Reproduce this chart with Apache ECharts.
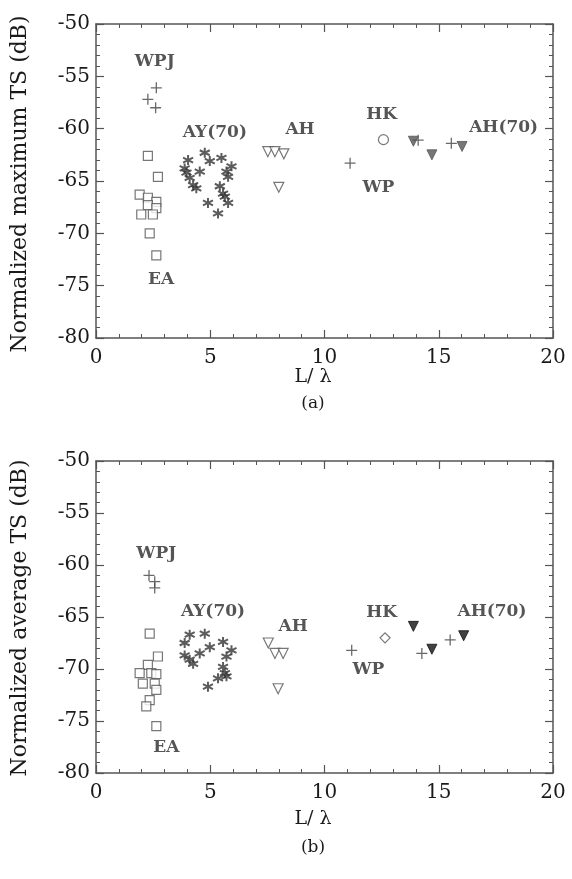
<!DOCTYPE html>
<html><head><meta charset="utf-8">
<script src="https://cdn.jsdelivr.net/npm/echarts@6/dist/echarts.min.js"></script>
<style>html,body{margin:0;padding:0;background:#fff}#c{width:572px;height:879px}</style>
</head><body><div id="c"></div>
<script>
// ---- Data (a): normalized maximum TS ----
const xTicks = [0, 5, 10, 15, 20];
const yTicks = [-80, -75, -70, -65, -60, -55, -50];

const maxWPJ = [[2.64,-56.1],[2.27,-57.2],[2.61,-58.0]];
const maxEA = [[2.27,-62.6],[2.71,-64.6],[1.91,-66.3],[2.27,-66.6],[2.64,-67.0],[2.27,-67.3],[2.64,-67.6],[1.98,-68.2],[2.49,-68.2],[2.35,-70.0],[2.64,-72.1]];
const maxAY70 = [[4.76,-62.3],[4.03,-63.0],[5.49,-62.8],[4.98,-63.1],[5.93,-63.6],[3.88,-63.8],[4.54,-64.1],[3.96,-64.2],[5.71,-64.1],[4.10,-64.7],[5.78,-64.6],[4.25,-65.4],[4.39,-65.7],[5.42,-65.5],[5.56,-66.2],[5.64,-66.5],[4.90,-67.1],[5.78,-67.1],[5.34,-68.1]];
const maxAH = [[7.52,-62.2],[7.83,-62.2],[8.22,-62.4],[8.00,-65.6]];
const maxWP = [[11.12,-63.3],[14.1,-61.1],[15.55,-61.4]];
const maxHK = [[12.58,-61.05]];
const maxAH70 = [[13.89,-61.2],[14.70,-62.5],[16.02,-61.7]];
const maxLabels = [["WPJ",2.57,-53.6],["AY(70)",5.2,-60.35],["AH",8.93,-60.1],["HK",12.5,-58.7],["WP",12.36,-65.65],["AH(70)",17.84,-59.9],["EA",2.85,-74.4]];

// ---- Data (b): normalized average TS ----
const avgWPJ = [[2.32,-61.0],[2.57,-61.6],[2.57,-62.2]];
const avgEA = [[2.35,-66.6],[2.71,-68.8],[2.27,-69.6],[1.91,-70.4],[2.42,-70.4],[2.64,-70.5],[2.05,-71.4],[2.57,-71.4],[2.64,-72.0],[2.35,-73.0],[2.20,-73.6],[2.64,-75.5]];
const avgAY70 = [[4.10,-66.7],[4.76,-66.6],[5.56,-67.4],[3.88,-67.5],[4.98,-67.9],[5.93,-68.2],[4.54,-68.5],[3.88,-68.7],[5.71,-68.8],[4.10,-69.1],[4.25,-69.5],[5.56,-69.8],[5.64,-70.4],[5.34,-70.9],[5.71,-70.7],[4.90,-71.7]];
const avgAH = [[7.54,-67.5],[7.83,-68.5],[8.19,-68.5],[7.97,-71.9]];
const avgWP = [[11.19,-68.2],[14.26,-68.5],[15.5,-67.2]];
const avgHK = [[12.65,-67.0]];
const avgAH70 = [[13.89,-65.9],[14.70,-68.1],[16.09,-66.8]];
const avgLabels = [["WPJ",2.64,-58.9],["AY(70)",5.12,-64.5],["AH",8.63,-65.9],["HK",12.5,-64.6],["WP",11.92,-70.1],["AH(70)",17.33,-64.5],["EA",3.08,-77.6]];

// ---- Styling ----
const AX = '#555555', TXT = '#1a1a1a';
const FONT = 'DejaVu Serif';
const PLUS = 'path://M5 0V10M0 5H10';
const STAR = 'path://M5 0L5 10M0.67 2.5L9.33 7.5M0.67 7.5L9.33 2.5';

function ax(kind, pos, g) {
  const main = pos === 'bottom' || pos === 'left';
  return {
    type: 'value', gridIndex: g, position: pos,
    min: kind === 'x' ? xTicks[0] : yTicks[0],
    max: kind === 'x' ? xTicks[xTicks.length - 1] : yTicks[yTicks.length - 1],
    interval: 5, z: 10,
    axisLine: {show: true, onZero: false, lineStyle: {color: AX, width: 1.5}},
    axisTick: {show: true, inside: true, length: 8, lineStyle: {color: AX, width: 1.2}},
    minorTick: {show: true, splitNumber: 5, length: 4, lineStyle: {color: AX, width: 1}},
    splitLine: {show: false},
    axisLabel: {show: main, margin: kind === 'x' ? 10 : 6, color: TXT, fontSize: 20,
      fontFamily: FONT}
  };
}

function sc(xi, yi, data, symbol, size, item, rotate) {
  return {type: 'scatter', xAxisIndex: xi, yAxisIndex: yi, data: data, symbol: symbol,
    symbolSize: size, symbolRotate: rotate || 0, itemStyle: item};
}
function labels(xi, yi, arr) {
  return {type: 'scatter', xAxisIndex: xi, yAxisIndex: yi, symbolSize: 1,
    itemStyle: {color: 'rgba(0,0,0,0)'},
    data: arr.map(a => ({name: a[0], value: [a[1], a[2]]})),
    label: {show: true, position: 'inside', formatter: p => p.name,
      fontFamily: FONT, fontWeight: 'bold', fontSize: 17, color: '#2a2a2a'}};
}
const lineOnly = c => ({color: 'rgba(0,0,0,0)', borderColor: c, borderWidth: 1.3});
const openSym = c => ({color: '#fff', borderColor: c, borderWidth: 1.2});

function panel(xi, yi, d, hkSymbol, ah70Color) {
  return [
    sc(xi, yi, d.wpj, PLUS, 11, lineOnly('#444')),
    sc(xi, yi, d.ea, 'rect', 9, openSym('#555')),
    sc(xi, yi, d.ay, STAR, 10, {color: 'rgba(0,0,0,0)', borderColor: '#333', borderWidth: 2}),
    sc(xi, yi, d.ah, 'triangle', 10, openSym('#555'), 180),
    sc(xi, yi, d.wp, PLUS, 11, lineOnly('#444')),
    sc(xi, yi, d.hk, hkSymbol, 10, openSym('#555')),
    sc(xi, yi, d.ah70, 'triangle', 10, {color: ah70Color, borderColor: ah70Color, borderWidth: 1}, 180),
    labels(xi, yi, d.labels)
  ];
}

const chart = echarts.init(document.getElementById('c'));
chart.setOption({
  animation: false,
  grid: [
    {left: 96, top: 24, width: 457, height: 314},
    {left: 96, top: 461, width: 457, height: 312}
  ],
  xAxis: [ax('x', 'bottom', 0), ax('x', 'top', 0), ax('x', 'bottom', 1), ax('x', 'top', 1)],
  yAxis: [ax('y', 'left', 0), ax('y', 'right', 0), ax('y', 'left', 1), ax('y', 'right', 1)],
  series: [].concat(
    panel(0, 0, {wpj: maxWPJ, ea: maxEA, ay: maxAY70, ah: maxAH, wp: maxWP, hk: maxHK, ah70: maxAH70, labels: maxLabels}, 'circle', '#555'),
    panel(2, 2, {wpj: avgWPJ, ea: avgEA, ay: avgAY70, ah: avgAH, wp: avgWP, hk: avgHK, ah70: avgAH70, labels: avgLabels}, 'diamond', '#111')
  ),
  graphic: [
    {type: 'text', x: 20, y: 184, rotation: Math.PI / 2, style: {text: 'Normalized maximum TS (dB)', fontFamily: FONT, fontSize: 22, fill: TXT, align: 'center', verticalAlign: 'middle'}},
    {type: 'text', x: 20, y: 618, rotation: Math.PI / 2, style: {text: 'Normalized average TS (dB)', fontFamily: FONT, fontSize: 22, fill: TXT, align: 'center', verticalAlign: 'middle'}},
    {type: 'text', x: 313, y: 377, style: {text: 'L/ λ', fontFamily: FONT, fontSize: 19, fill: TXT, align: 'center', verticalAlign: 'middle'}},
    {type: 'text', x: 313, y: 404, style: {text: '(a)', fontFamily: FONT, fontSize: 17, fill: TXT, align: 'center', verticalAlign: 'middle'}},
    {type: 'text', x: 313, y: 819, style: {text: 'L/ λ', fontFamily: FONT, fontSize: 19, fill: TXT, align: 'center', verticalAlign: 'middle'}},
    {type: 'text', x: 313, y: 848, style: {text: '(b)', fontFamily: FONT, fontSize: 17, fill: TXT, align: 'center', verticalAlign: 'middle'}}
  ]
});
</script></body></html>
